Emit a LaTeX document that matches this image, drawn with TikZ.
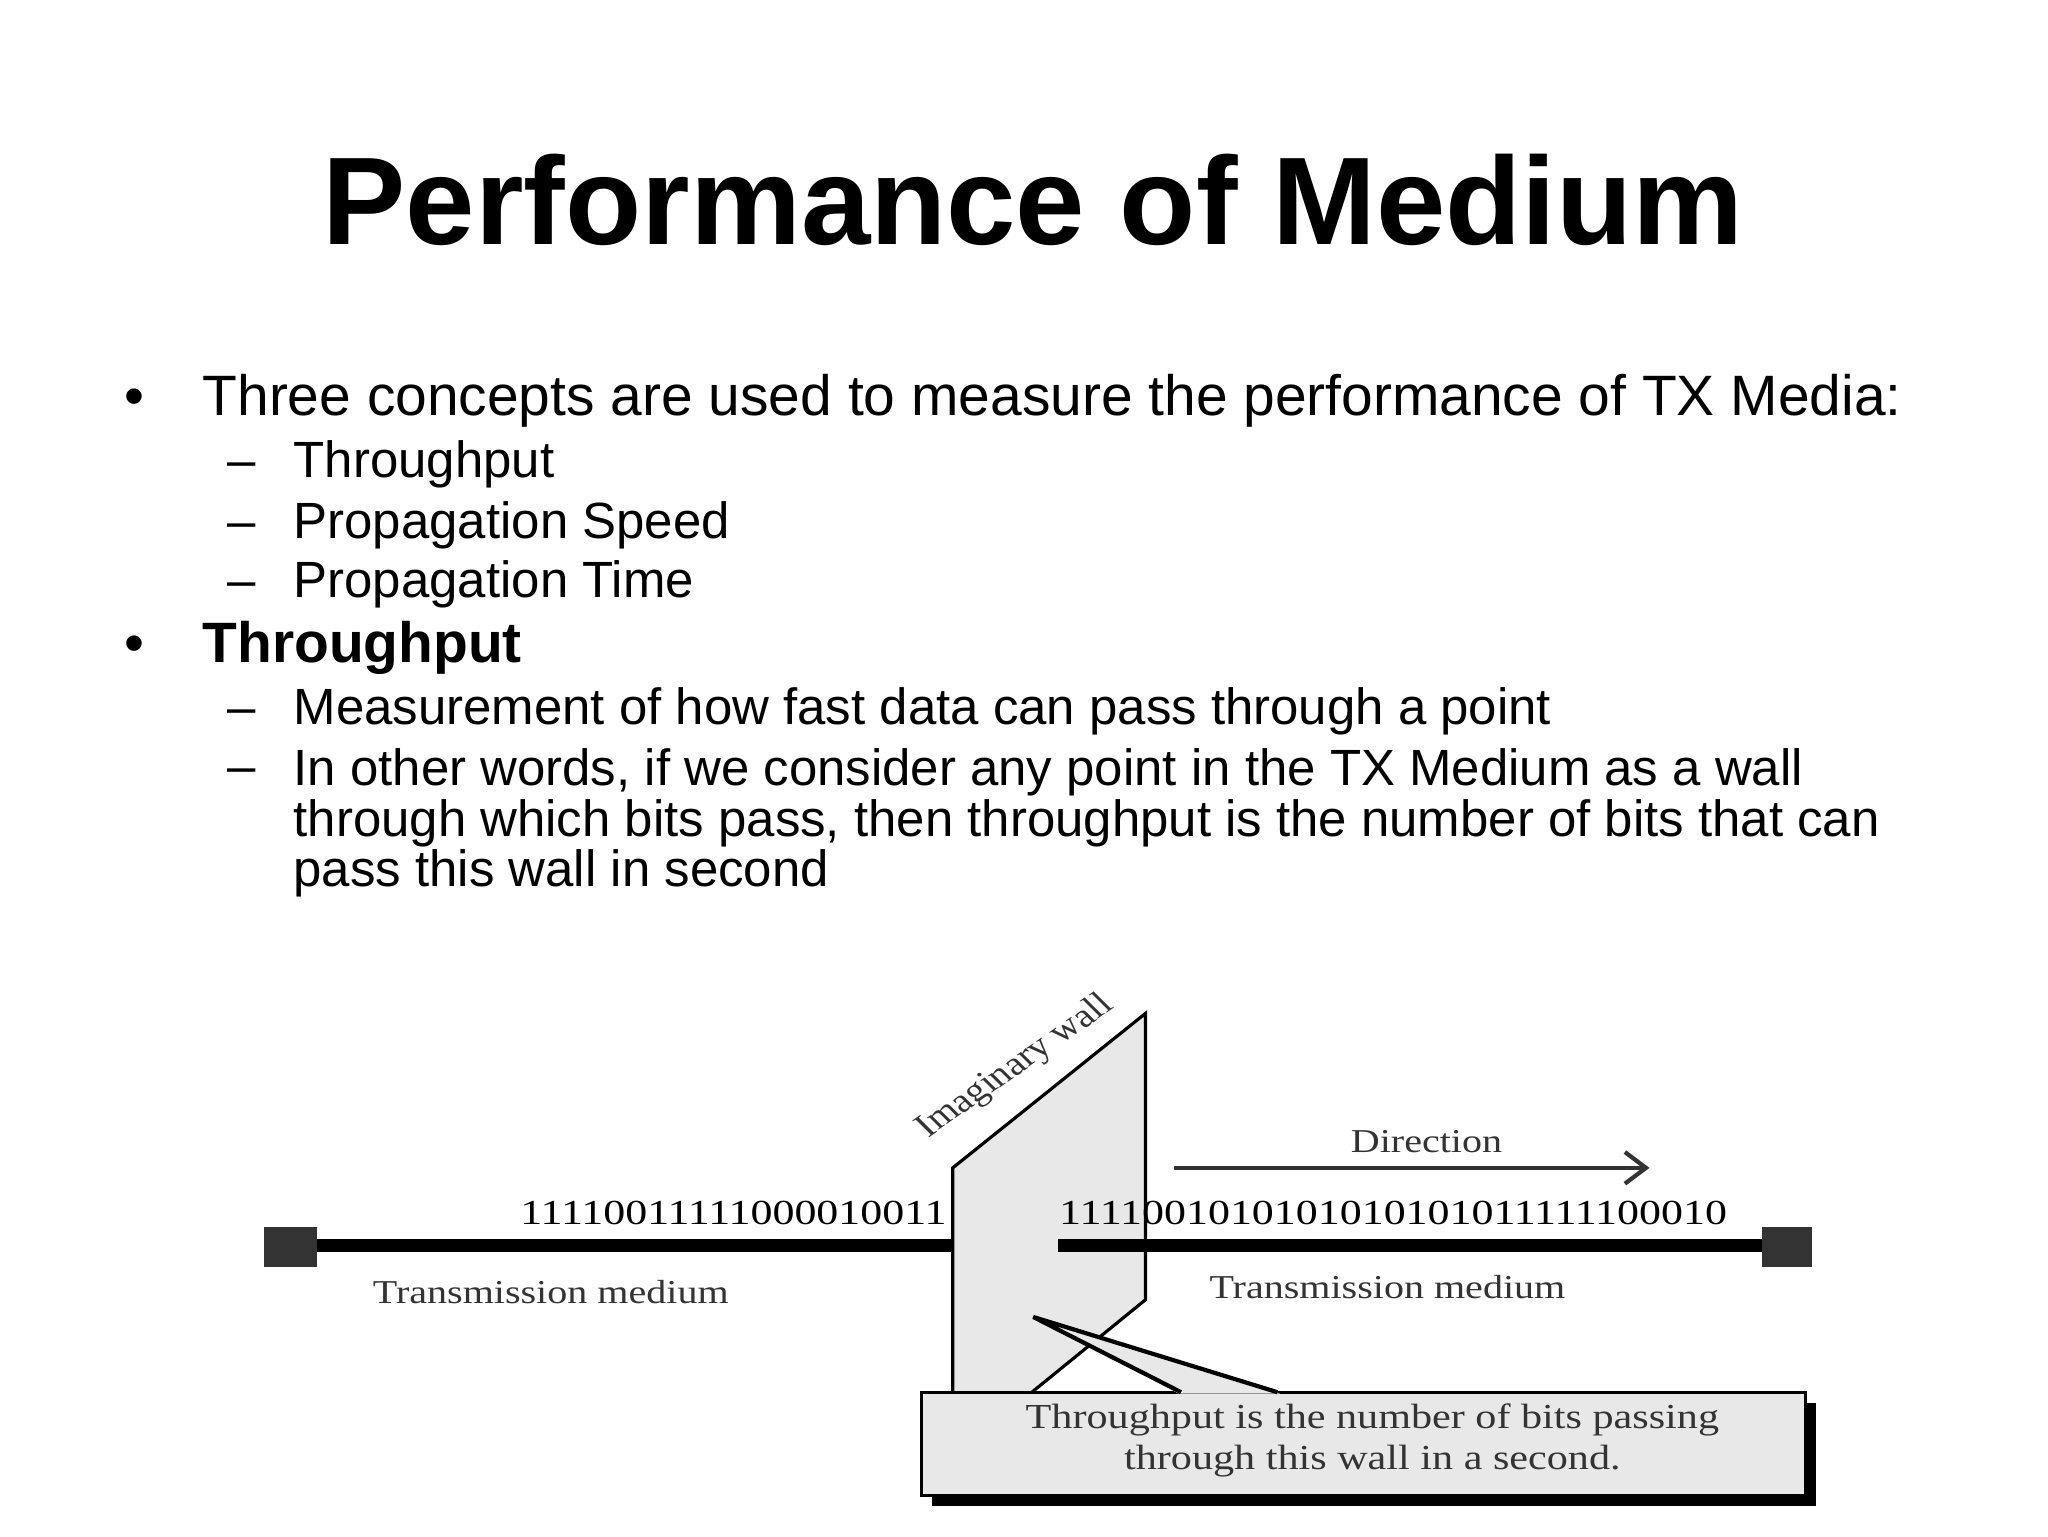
\documentclass[tikz,border=0pt]{standalone}
\usepackage{fontspec}
\usetikzlibrary{arrows.meta}
\setmainfont{Liberation Sans}
\newfontfamily\serfont{Liberation Serif}
\begin{document}
\begin{tikzpicture}[x=0.013196cm,y=-0.013196cm,
  bul/.style={anchor=base west,inner sep=0,font=\fontsize{16.2}{19}\selectfont},
  sub/.style={anchor=base west,inner sep=0,font=\fontsize{14.5}{14.3}\selectfont,align=left},
  bits/.style={inner sep=0,font=\serfont\fontsize{10}{12}\selectfont,xscale=1.25},
  lab/.style={inner sep=0,font=\serfont\fontsize{9.5}{11.5}\selectfont,xscale=1.2,text=black!80},
  medium/.style={line width=3.8pt,black},
  endsq/.style={fill=black!80,draw=none}]
\useasboundingbox (0,0) rectangle (1552,1164);
\node[inner sep=0,anchor=base,font=\bfseries\fontsize{35.5}{40}\selectfont] (title) at (783,185) {Performance of Medium};
\node[bul] (b1d) at (94,315) {\textbullet};
\node[bul] (b1) at (153,315) {Three concepts are used to measure the performance of TX Media:};
\node[sub] (d1) at (172,362) {--};\node[sub] (s1) at (222,362) {Throughput};
\node[sub] (d2) at (172,408) {--};\node[sub] (s2) at (222,408) {Propagation Speed};
\node[sub] (d3) at (172,453) {--};\node[sub] (s3) at (222,453) {Propagation Time};
\node[bul] (b2d) at (94,502) {\textbullet};
\node[bul,font=\bfseries\fontsize{16.2}{19}\selectfont] (b2) at (153,502) {Throughput};
\node[sub] (d4) at (172,549) {--};\node[sub] (s4) at (222,549) {Measurement of how fast data can pass through a point};
\node[sub] (d5) at (172,594) {--};
\node[sub,anchor=north west] (s5) at (222,567) {In other words, if we consider any point in the TX Medium as a wall\\through which bits pass, then throughput is the number of bits that can\\pass this wall in second};
% diagram
\fill[endsq] (200,930) rectangle (240,960);
\fill[endsq] (1335,930) rectangle (1373,960);
\coordinate (l0) at (240,944); \coordinate (l1) at (722,944);
\draw[medium] (l0) -- (l1);
\draw[fill=black!9,line width=0.9pt] (722,1055) -- (722,885) -- (868,768) -- (868,985) -- (782,1055);
\coordinate (r0) at (802,944); \coordinate (r1) at (1335,944);
\draw[medium] (r0) -- (r1);
\node[bits,anchor=base east] (lb) at (718,928) {11110011111000010011};
\node[bits,anchor=base west] (rb) at (802,928) {1111001010101010101011111100010};
\node[lab,anchor=base west] (tm1) at (282,988) {Transmission medium};
\node[lab,anchor=base west] (tm2) at (916,984) {Transmission medium};
\node[lab,anchor=base] (dir) at (1081,873) {Direction};
\coordinate (a0) at (890,885); \coordinate (a1) at (1250,885);
\draw[line width=1.2pt,black!80,-{Straight Barb[length=6pt,width=9pt]}] (a0) -- (a1);
\node[lab,rotate=40,anchor=base] (iw) at (774,813) {Imaginary wall};
% callout
\fill[black] (706,1063) rectangle (1376,1141);
\draw[fill=black!9,line width=0.9pt] (698,1055) rectangle (1368,1133);
\coordinate (tip) at (783,998);
\fill[black!9] (893,1056) -- (tip) -- (970,1056) -- cycle;
\draw[line width=1.2pt] (895,1055) -- (tip) -- (968,1055);
\node[lab,align=center,anchor=north,font=\serfont\fontsize{10}{11.8}\selectfont] (ct) at (1040,1063) {Throughput is the number of bits passing\\through this wall in a second.};
\end{tikzpicture}
\end{document}
